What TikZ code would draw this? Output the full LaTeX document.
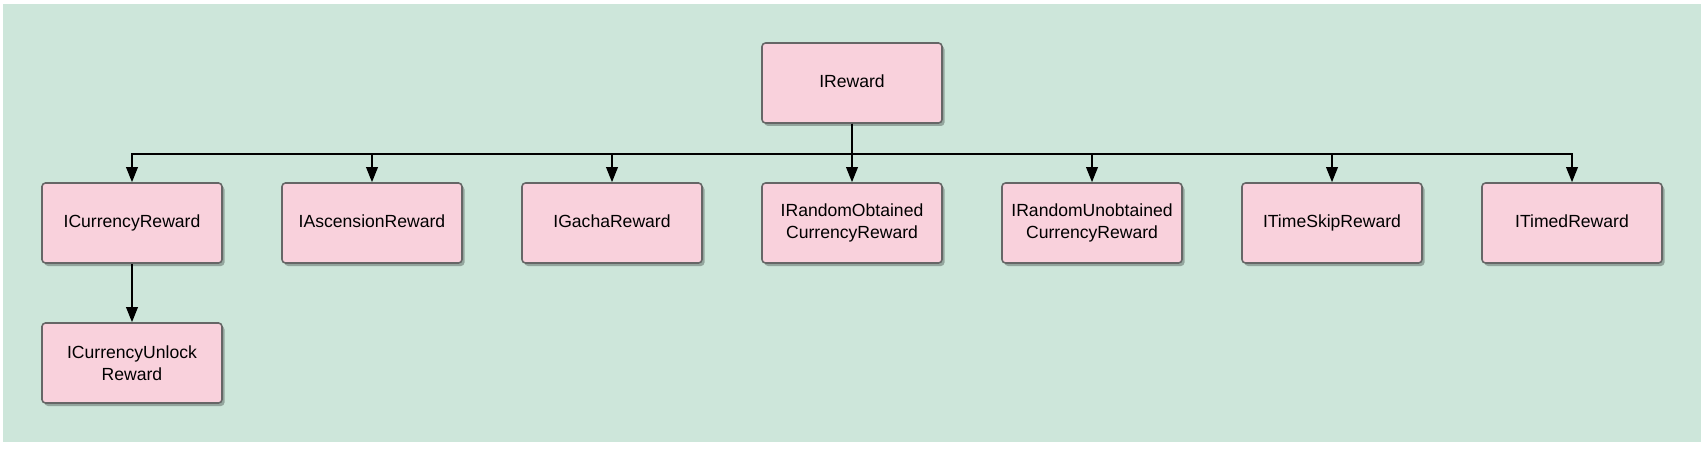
\documentclass[tikz,border=0pt]{standalone}
\usepackage{fontspec}
\setmainfont{Liberation Sans}
\usepackage{xcolor}
\usetikzlibrary{arrows.meta,shadows}
\definecolor{rwdback}{HTML}{CDE6DA}
\definecolor{rwdpink}{HTML}{F9D1DC}
\definecolor{rwdedge}{HTML}{666666}

\tikzset{
  rwdbox/.style={draw=rwdedge,line width=0.9pt,fill=rwdpink,rounded corners=0.07cm,
    minimum width=3.6cm,minimum height=1.6cm,inner sep=0pt,align=center,
    font=\fontsize{10}{12.2}\selectfont,
    drop shadow={shadow xshift=0.05cm,shadow yshift=-0.06cm,opacity=0.28,fill=black}},
  rwdone/.style={rwdbox,text height=8pt,text depth=3.1pt},
  rwdarrow/.style={draw=black,line width=1.1pt,-{Triangle[length=0.3cm,width=0.23cm]}}
}

\begin{document}
\begin{tikzpicture}[x=1cm,y=1cm]
  \useasboundingbox (0,0) rectangle (34.12,9);
  \fill[white] (0,0) rectangle (34.12,9);
  \fill[rwdback] (0.06,0.16) rectangle (34.02,8.92);

  % root
  \node[rwdone] (reward) at (17.04,7.34) {IReward};

  % children
  \node[rwdone] (currency)  at (2.64,4.54)  {ICurrencyReward};
  \node[rwdone] (ascension) at (7.44,4.54)  {IAscensionReward};
  \node[rwdone] (gacha)     at (12.24,4.54) {IGachaReward};
  \node[rwdbox] (obtained)  at (17.04,4.54) {IRandomObtained\\CurrencyReward};
  \node[rwdbox] (unobtained) at (21.84,4.54) {IRandomUnobtained\\CurrencyReward};
  \node[rwdone] (timeskip)  at (26.64,4.54) {ITimeSkipReward};
  \node[rwdone] (timed)     at (31.44,4.54) {ITimedReward};

  \node[rwdbox] (unlock) at (2.64,1.74) {ICurrencyUnlock\\Reward};

  % connectors
  \foreach \child in {currency,ascension,gacha,obtained,unobtained,timeskip,timed}
    \draw[rwdarrow] (reward.south) -- ++(0,-0.6) -| (\child.north);
  \draw[rwdarrow] (currency.south) -- (unlock.north);
\end{tikzpicture}
\end{document}
